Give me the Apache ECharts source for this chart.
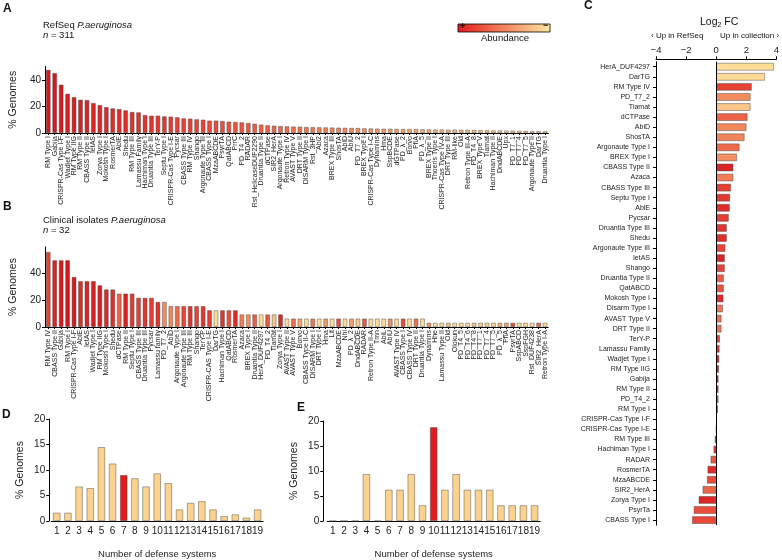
<!DOCTYPE html>
<html><head><meta charset="utf-8">
<script src="https://cdn.jsdelivr.net/npm/echarts@6/dist/echarts.min.js"></script>
<style>html,body{margin:0;padding:0;background:#fff}#c{width:782px;height:560px}</style>
</head><body><div id="c"></div>
<script>
// ---------- DATA ----------
const refseqNames = ['RM Type I','Gabija','CRISPR-Cas Type I-F','Wadjet Type I','RM Type IIG','RM Type II','CBASS Type II','IetAS','Zorya Type I','Mokosh Type I','RosmerTA','AbiE','Shedu','RM Type III','Lamassu Family','Hachiman Type I','Druantia Type III','TerY-P','Septu Type I','CRISPR-Cas Type I-E','Pycsar','CBASS Type III','RM Type IV','Shango','Argonaute Type III','CBASS Type I','MzaABCDE','PsyrTA','QatABCD','PrrC','PD_T4_2','RADAR','Rst_HelicaseDUF2290','Druantia Type II','dCTPase','SIR2_HerA','Argonaute Type I','Retron Type IV','AVAST Type V','DRT Type II','DISARM Type I','Rst_3HP','Abi2','Azaca','BREX Type III','ShosTA','AbiD','AbiU','PD_T7_2','BREX Type I','CRISPR-Cas Type I-C','Dynamins','Hma','SspBCDE','dGTPase','PD_λ_2','Borvo','PfiA','PD_λ_5','BREX Type II','Thoeris Type I','CRISPR-Cas Type IV-A','DRT Type III','RM-like','Old','Retron Type III-A','PD_T4_8','BREX Type V','Tiamat','Hachiman Type II','DndABCDE','Upx','PD_T7_1','PD_T7_4','PD_T7_5','Argonaute Type II','DarTG','Druantia Type I'];
const refseqValues = [47.5,45,36.3,29.5,27,25,24.8,22.5,21,19.5,18.5,18,17,15.8,15.5,13.5,13,13,12.5,12.3,11.8,11.0,10.8,10.3,10,9.3,9.3,9.0,8.5,8.3,8.0,7.5,7.0,6.3,5.8,5.5,5.2,5.0,4.8,4.7,4.5,4.4,4.3,4.2,4.1,4.0,3.9,3.8,3.7,3.5,3.4,3.3,3.2,3.2,3.1,3.0,3.0,2.9,2.8,2.7,2.6,2.6,2.5,2.5,2.4,2.4,2.3,2.2,2.0,1.9,1.9,1.8,1.8,1.7,1.6,1.5,1.4,1.3];

const clinicalNames = ['RM Type IV','CBASS Type II','Gabija','RM Type I','CRISPR-Cas Type I-F','AbiE','IetAS','Wadjet Type I','RM Type IIG','Mokosh Type I','Shedu','dCTPase','RM Type II','Septu Type I','CBASS Type III','Druantia Type III','Pycsar','Lamassu family','PD_T7_2','AbiD','Argonaute Type I','Argonaute Type III','RM Type III','Shango','TerY-P','CRISPR-CAS Type I-E','DarTG','Hachiman Type I','QatABCD','RosmerTA','Azaca','BREX Type I','Druantia Type II','HerA_DUF4297','PD_T4_2','Tiamat','Zorya Type I','AVAST Type II','AVAST Type V','Borvo','CBASS Type II-C','DISARM Type I','DRT Type I','Hma','Lit','MzaABCDE','Nhi','PD_λ_2','DndABCDE','RADAR','Retron Type II-A','Tmn','AbiL','AbiU','AVAST Type IV','CBASS Type I','CBASS Type IV','DRT Type II','Druantia Type I','Dynamins','Hhe','Lamassu Type II','Old','Olokun','PD_T4_5','PD_T4_6','PD_T4_8','PD_T7_1','PD_T7_4','PD_T7_5','PD_λ_5','PfiA','PsyrTA','SspABCD','SspFGH','Rst_DUF4238','SIR2_HerA','Retron Type I-A'];
const clinicalValues = [
  56.25,50,50,50,37.5,34.375,34.375,34.375,31.25,28.125,28.125,25,25,25,21.875,21.875,21.875,18.75,18.75,
  15.625,15.625,15.625,15.625,15.625,15.625,12.5,12.5,12.5,12.5,12.5,
  9.375,9.375,9.375,9.375,9.375,9.375,9.375,
  6.25,6.25,6.25,6.25,6.25,6.25,6.25,6.25,6.25,6.25,6.25,
  6.25,6.25,6.25,6.25,6.25,6.25,6.25,6.25,6.25,6.25,6.25,
  3.125,3.125,3.125,3.125,3.125,3.125,3.125,3.125,3.125,3.125,
  3.125,3.125,3.125,3.125,3.125,3.125,3.125,3.125,3.125];

const fcNames = ['HerA_DUF4297','DarTG','RM Type IV','PD_T7_2','Tiamat','dCTPase','AbiD','ShosTA','Argonaute Type I','BREX Type I','CBASS Type II','Azaca','CBASS Type III','Septu Type I','AbiE','Pycsar','Druantia Type III','Shedu','Argonaute Type III','IetAS','Shango','Druantia Type II','QatABCD','Mokosh Type I','Disarm Type I','AVAST Type V','DRT Type II','TerY-P','Lamassu Family','Wadjet Type I','RM Type IIG','Gabija','RM Type II','PD_T4_2','RM Type I','CRISPR-Cas Type I-F','CRISPR-Cas Type I-E','RM Type III','Hachiman Type I','RADAR','RosmerTA','MzaABCDE','SIR2_HerA','Zorya Type I','PsyrTa','CBASS Type I'];
const fcValues = [3.83,3.24,2.36,2.28,2.28,2.08,2.01,1.88,1.55,1.38,1.14,1.14,0.98,0.92,0.9,0.83,0.7,0.7,0.61,0.57,0.57,0.5,0.5,0.48,0.44,0.35,0.35,0.24,0.22,0.2,0.18,0.15,0.15,0.15,0.11,0.05,0.01,-0.09,-0.17,-0.37,-0.57,-0.61,-0.9,-1.16,-1.49,-1.6];

const defenseCounts = ['1','2','3','4','5','6','7','8','9','10','11','12','13','14','15','16','17','18','19'];
const refseqDist = [1.61,1.61,6.75,6.43,14.47,11.25,9.0,8.36,6.75,9.32,7.40,2.25,3.54,3.86,2.25,0.96,1.29,0.64,2.25];
const clinicalDist = [0,0,0,9.375,0,6.25,6.25,9.375,3.125,18.75,6.25,9.375,6.25,6.25,6.25,3.125,3.125,3.125,3.125];
const refseqHighlight = '7';
const clinicalHighlight = '10';

const yTicksAB = [0,20,40];
const fcTicks = [-4,-2,0,2,4];

// ---------- STYLE HELPERS ----------
const FONT = '"Liberation Sans", Arial, sans-serif';
const stops = [[0,[214,24,28]],[0.33,[233,72,56]],[0.66,[244,150,100]],[1,[253,222,152]]];
function grad(t){
  t = Math.max(0, Math.min(1, t));
  for (let i=1;i<stops.length;i++){
    if (t <= stops[i][0]){
      const a = stops[i-1], b = stops[i];
      const f = (t-a[0])/(b[0]-a[0]);
      const c = a[1].map((v,k)=>Math.round(v+(b[1][k]-v)*f));
      return 'rgb('+c.join(',')+')';
    }
  }
  return 'rgb('+stops[stops.length-1][1].join(',')+')';
}
const rankMap = {};
refseqNames.forEach((n,i)=>{ rankMap[n.toLowerCase()] = i; });
function colorFor(name){
  const r = name ? rankMap[String(name).toLowerCase()] : undefined;
  return grad(r === undefined ? 1 : r/(refseqNames.length-1));
}
const border = {borderColor:'rgba(70,70,70,0.75)', borderWidth:0.6};
const lightBar = '#fcd38e';
const redBar = '#e31a1c';

const axisLine = {show:true, lineStyle:{color:'#000', width:1}};
const tick = {show:true, length:3, lineStyle:{color:'#000', width:1}};

function catAxisAB(grid, names){
  return {type:'category', gridIndex:grid, data:names,
    axisLine:axisLine, axisTick:{show:true, alignWithLabel:true, length:2, lineStyle:{color:'#000'}},
    axisLabel:{interval:0, rotate:90, fontSize:7, fontFamily:FONT, color:'#222', margin:3}};
}
function valAxisAB(grid, max){
  return {type:'value', gridIndex:grid, min:0, max:max, splitLine:{show:false},
    axisLine:axisLine, axisTick:Object.assign({customValues:yTicksAB}, tick),
    axisLabel:{customValues:yTicksAB, fontSize:10, fontFamily:FONT, color:'#222', margin:4},
    name:'% Genomes', nameLocation:'middle', nameGap:20,
    nameTextStyle:{fontSize:10.5, fontFamily:FONT, color:'#222'}};
}
function catAxisDE(grid){
  return {type:'category', gridIndex:grid, data:defenseCounts,
    axisLine:axisLine, axisTick:{show:false},
    axisLabel:{interval:0, fontSize:10, fontFamily:FONT, color:'#222', margin:5},
    name:'Number of defense systems', nameLocation:'middle', nameGap:28,
    nameTextStyle:{fontSize:9.5, fontFamily:FONT, color:'#222'}};
}
function valAxisDE(grid, off){
  return {type:'value', gridIndex:grid, min:0, max:20, interval:5, offset:off, splitLine:{show:false},
    axisLine:axisLine, axisTick:tick,
    axisLabel:{fontSize:10, fontFamily:FONT, color:'#222', margin:4},
    name:'% Genomes', nameLocation:'middle', nameGap:24,
    nameTextStyle:{fontSize:10.5, fontFamily:FONT, color:'#222'}};
}

const chart = echarts.init(document.getElementById('c'), null, {renderer:'canvas'});
function T(text, left, top, size, extra){
  return {text:text, left:left, top:top, padding:0,
    textStyle:Object.assign({fontFamily:FONT, fontSize:size, color:'#111', fontWeight:'normal'}, extra||{})};
}
const richItal = (size)=>({i:{fontStyle:'italic', fontSize:size, fontFamily:FONT, color:'#111'}, r:{fontSize:size, fontFamily:FONT, color:'#111'}});

const option = {
  animation:false,
  backgroundColor:'#fff',
  title:[
    T('A', 3, 3, 12, {fontWeight:'bold'}),
    T('{r|RefSeq }{i|P.aeruginosa}', 43, 20, 9.5, {rich:richItal(9.5)}),
    T('{i|n}{r| = 311}', 43, 30, 9.5, {rich:richItal(9.5)}),
    T('B', 3, 201, 12, {fontWeight:'bold'}),
    T('{r|Clinical isolates }{i|P.aeruginosa}', 43, 215, 9.5, {rich:richItal(9.5)}),
    T('{i|n}{r| = 32}', 43, 225, 9.5, {rich:richItal(9.5)}),
    T('C', 584, 0, 12, {fontWeight:'bold'}),
    T('{r|Log}{s|2}{r| FC}', 700, 16, 10.5, {rich:{r:{fontSize:10.5,fontFamily:FONT,color:'#111'}, s:{fontSize:7,fontFamily:FONT,color:'#111',verticalAlign:'bottom', padding:[6,0,0,0]}}}),
    T('‹ Up in RefSeq', 651, 32, 8),
    T('Up in collection ›', 720, 32, 8),
    T('D', 2, 409, 12, {fontWeight:'bold'}),
    T('E', 297, 402, 12, {fontWeight:'bold'}),
    T('Abundance', 481, 33, 9.5)
  ],
  graphic:[
    {type:'rect', shape:{x:458, y:24, width:92, height:8},
     style:{fill:new echarts.graphic.LinearGradient(0,0,1,0,[{offset:0,color:'#e41a1c'},{offset:0.5,color:'#f4845c'},{offset:1,color:'#fee7a4'}]), stroke:'#000', lineWidth:0.8}},
    {type:'text', x:460, y:22.5, style:{text:'+', font:'bold 9px '+FONT, fill:'#000'}},
    {type:'text', x:543, y:21.5, style:{text:'−', font:'bold 9px '+FONT, fill:'#000'}}
  ],
  grid:[
    {left:31.9, top:66.5, width:516.4, height:66.5},
    {left:31.9, top:247, width:516.4, height:80},
    {left:656, top:61.7, width:121.5, height:463.4},
    {left:51.2, top:419, width:212, height:108},
    {left:327.2, top:421, width:213, height:107}
  ],
  xAxis:[
    catAxisAB(0, refseqNames),
    catAxisAB(1, clinicalNames),
    {type:'value', gridIndex:2, position:'top', min:-4, max:4, interval:2, offset:2.4, splitLine:{show:false},
     axisLine:axisLine, axisTick:Object.assign({customValues:fcTicks}, tick),
     axisLabel:{customValues:fcTicks, fontSize:9.5, fontFamily:FONT, color:'#222', margin:4, formatter:v=>String(v).replace('-','−')}},
    catAxisDE(3),
    catAxisDE(4)
  ],
  yAxis:[
    valAxisAB(0, 50),
    valAxisAB(1, 60),
    {type:'category', gridIndex:2, data:fcNames, inverse:true,
     axisLine:Object.assign({onZero:false}, axisLine),
     axisTick:{show:true, alignWithLabel:true, length:3, lineStyle:{color:'#000'}},
     axisLabel:{interval:0, fontSize:7, fontFamily:FONT, color:'#222', margin:6}},
    valAxisDE(3, 2),
    valAxisDE(4, 4)
  ],
  series:[
    {type:'bar', xAxisIndex:0, yAxisIndex:0, barCategoryGap:'30%',
     data:refseqValues.map((v,i)=>({value:v, itemStyle:Object.assign({color:colorFor(refseqNames[i])}, border)}))},
    {type:'bar', xAxisIndex:1, yAxisIndex:1, barCategoryGap:'30%',
     data:clinicalValues.map((v,i)=>({value:v, itemStyle:Object.assign({color:colorFor(clinicalNames[i])}, border)}))},
    {type:'bar', xAxisIndex:2, yAxisIndex:2, barCategoryGap:'25%',
     data:fcValues.map((v,i)=>({value:v, itemStyle:Object.assign({color:colorFor(fcNames[i])}, border)})),
     markLine:{silent:true, symbol:'none', label:{show:false}, lineStyle:{color:'#000', type:'solid', width:1},
       data:[{xAxis:0}]}},
    {type:'bar', xAxisIndex:3, yAxisIndex:3, barCategoryGap:'35%',
     data:refseqDist.map((v,i)=>({value:v, itemStyle:Object.assign({color: defenseCounts[i]===refseqHighlight?redBar:lightBar}, border)}))},
    {type:'bar', xAxisIndex:4, yAxisIndex:4, barCategoryGap:'35%',
     data:clinicalDist.map((v,i)=>({value:v, itemStyle:Object.assign({color: defenseCounts[i]===clinicalHighlight?redBar:lightBar}, border)}))}
  ]
};
chart.setOption(option);
</script></body></html>
